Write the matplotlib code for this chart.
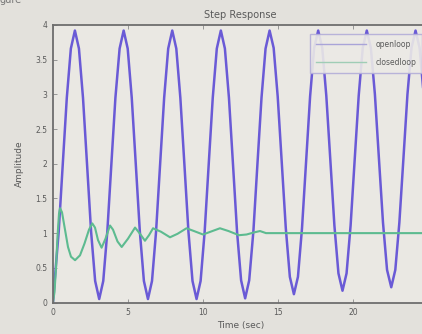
import numpy as np
import matplotlib.pyplot as plt
from matplotlib.lines import Line2D

# open loop step response
t_open = [0.0, 0.11, 0.38, 0.65, 0.92, 1.19, 1.46, 1.73, 2.00, 2.27, 2.54, 2.81,
          3.08, 3.35, 3.62, 3.89, 4.16, 4.44, 4.71, 4.98, 5.25, 5.52, 5.79, 6.06,
          6.33, 6.60, 6.87, 7.14, 7.41, 7.68, 7.95, 8.22, 8.49, 8.76, 9.03, 9.30,
          9.57, 9.84, 10.11, 10.38, 10.65, 10.92, 11.19, 11.46, 11.73, 12.00, 12.27, 12.54,
          12.81, 13.08, 13.36, 13.63, 13.90, 14.17, 14.44, 14.71, 14.98, 15.25, 15.52, 15.79,
          16.06, 16.33, 16.60, 16.87, 17.14, 17.41, 17.68, 17.95, 18.22, 18.49, 18.76, 19.03,
          19.30, 19.57, 19.84, 20.11, 20.38, 20.65, 20.92, 21.19, 21.46, 21.73, 22.00, 22.27,
          22.55, 22.82, 23.09, 23.36, 23.63, 23.90, 24.17, 24.44, 24.71, 24.98, 25.25]
y_open = [0.0, 0.31, 1.02, 1.99, 2.95, 3.66, 3.92, 3.66, 2.95, 1.99, 1.02, 0.31,
          0.05, 0.31, 1.02, 1.99, 2.95, 3.66, 3.92, 3.66, 2.95, 1.99, 1.02, 0.31,
          0.05, 0.31, 1.02, 1.99, 2.95, 3.66, 3.92, 3.66, 2.95, 1.99, 1.02, 0.31,
          0.05, 0.31, 1.02, 1.99, 2.95, 3.66, 3.92, 3.66, 2.95, 1.99, 1.02, 0.32,
          0.06, 0.32, 1.03, 2.00, 2.95, 3.66, 3.92, 3.67, 2.97, 2.02, 1.07, 0.37,
          0.12, 0.37, 1.07, 2.02, 2.97, 3.67, 3.92, 3.67, 2.98, 2.05, 1.11, 0.42,
          0.17, 0.42, 1.11, 2.05, 2.98, 3.67, 3.92, 3.67, 3.00, 2.07, 1.15, 0.47,
          0.22, 0.47, 1.15, 2.07, 3.00, 3.67, 3.92, 3.67, 3.00, 2.07, 1.15]

# closed loop step response
t_closed = [0.0, 0.1, 0.2, 0.3, 0.4, 0.47, 0.6, 0.8, 1.0, 1.2, 1.47, 1.8, 2.1, 2.4,
            2.62, 2.8, 3.0, 3.24, 3.5, 3.8, 4.0, 4.3, 4.58, 5.0, 5.47, 5.8, 6.13,
            6.4, 6.67, 7.2, 7.8, 8.3, 8.9, 9.4, 10.0, 10.5, 11.13, 11.7, 12.4,
            12.9, 13.4, 13.8, 14.2, 14.8, 25.5]
y_closed = [0.0, 0.15, 0.5, 0.95, 1.28, 1.36, 1.3, 1.05, 0.8, 0.66, 0.61, 0.68, 0.85, 1.05,
            1.14, 1.08, 0.9, 0.79, 0.92, 1.11, 1.05, 0.88, 0.8, 0.92, 1.08, 0.99, 0.89,
            0.97, 1.07, 1.02, 0.94, 0.99, 1.07, 1.03, 0.98, 1.02, 1.07, 1.03, 0.97,
            0.98, 1.01, 1.03, 1.0, 1.0, 1.0]

x_ticks = [0, 5, 10, 15, 20, 25]
y_ticks = [0, 0.5, 1, 1.5, 2, 2.5, 3, 3.5, 4]
y_ticklabels = ['0', '0.5', '1', '1.5', '2', '2.5', '3', '3.5', '4']

blue = '#6a5ad6'
green = '#5dbb90'
txt = '#5a5a5a'

fig = plt.figure(figsize=(4.22, 3.34), dpi=100, facecolor='#e3e1dc')
ax = fig.add_axes([53 / 422, 1 - 302.5 / 334, 375 / 422, 277.5 / 334], facecolor='#eae8e3')

ax.plot(t_open, y_open, color=blue, lw=1.8)
ax.plot(t_closed, y_closed, color=green, lw=1.5)

ax.set_xlim(0, 25)
ax.set_ylim(0, 4)
ax.set_xticks(x_ticks)
ax.set_yticks(y_ticks)
ax.set_yticklabels(y_ticklabels)
ax.tick_params(direction='in', length=3, width=0.6, colors='#8a8a8a',
               labelcolor=txt, labelsize=5.5, top=True, right=True, pad=4)
for s in ax.spines.values():
    s.set_color('#6e6e6e')
    s.set_linewidth(1.3)

ax.set_title('Step Response', fontsize=7, color=txt, pad=5)
ax.set_xlabel('Time (sec)', fontsize=6.5, color=txt, labelpad=3)
ax.set_ylabel('Amplitude', fontsize=6.5, color=txt, labelpad=8)

handles = [Line2D([], [], color='#a9a4d8', lw=1.0),
           Line2D([], [], color='#9fcdb6', lw=1.0)]
leg = ax.legend(handles, ['openloop', 'closedloop'], loc='upper right',
                bbox_to_anchor=(426 / 422, 1 - 30 / 334), bbox_transform=fig.transFigure,
                fontsize=5.5, handlelength=6.5, handletextpad=1.2, borderpad=0.8,
                labelspacing=1.2, frameon=True, fancybox=False, framealpha=0.9,
                facecolor='#eceae6', edgecolor='#b3aed8')
leg.get_frame().set_linewidth(1.0)
for tx in leg.get_texts():
    tx.set_color(txt)

fig.text(0.0, 1.0, 'gure', fontsize=7, color='#777777', va='center', ha='left')

fig.savefig('out.png', dpi=100, facecolor=fig.get_facecolor())
